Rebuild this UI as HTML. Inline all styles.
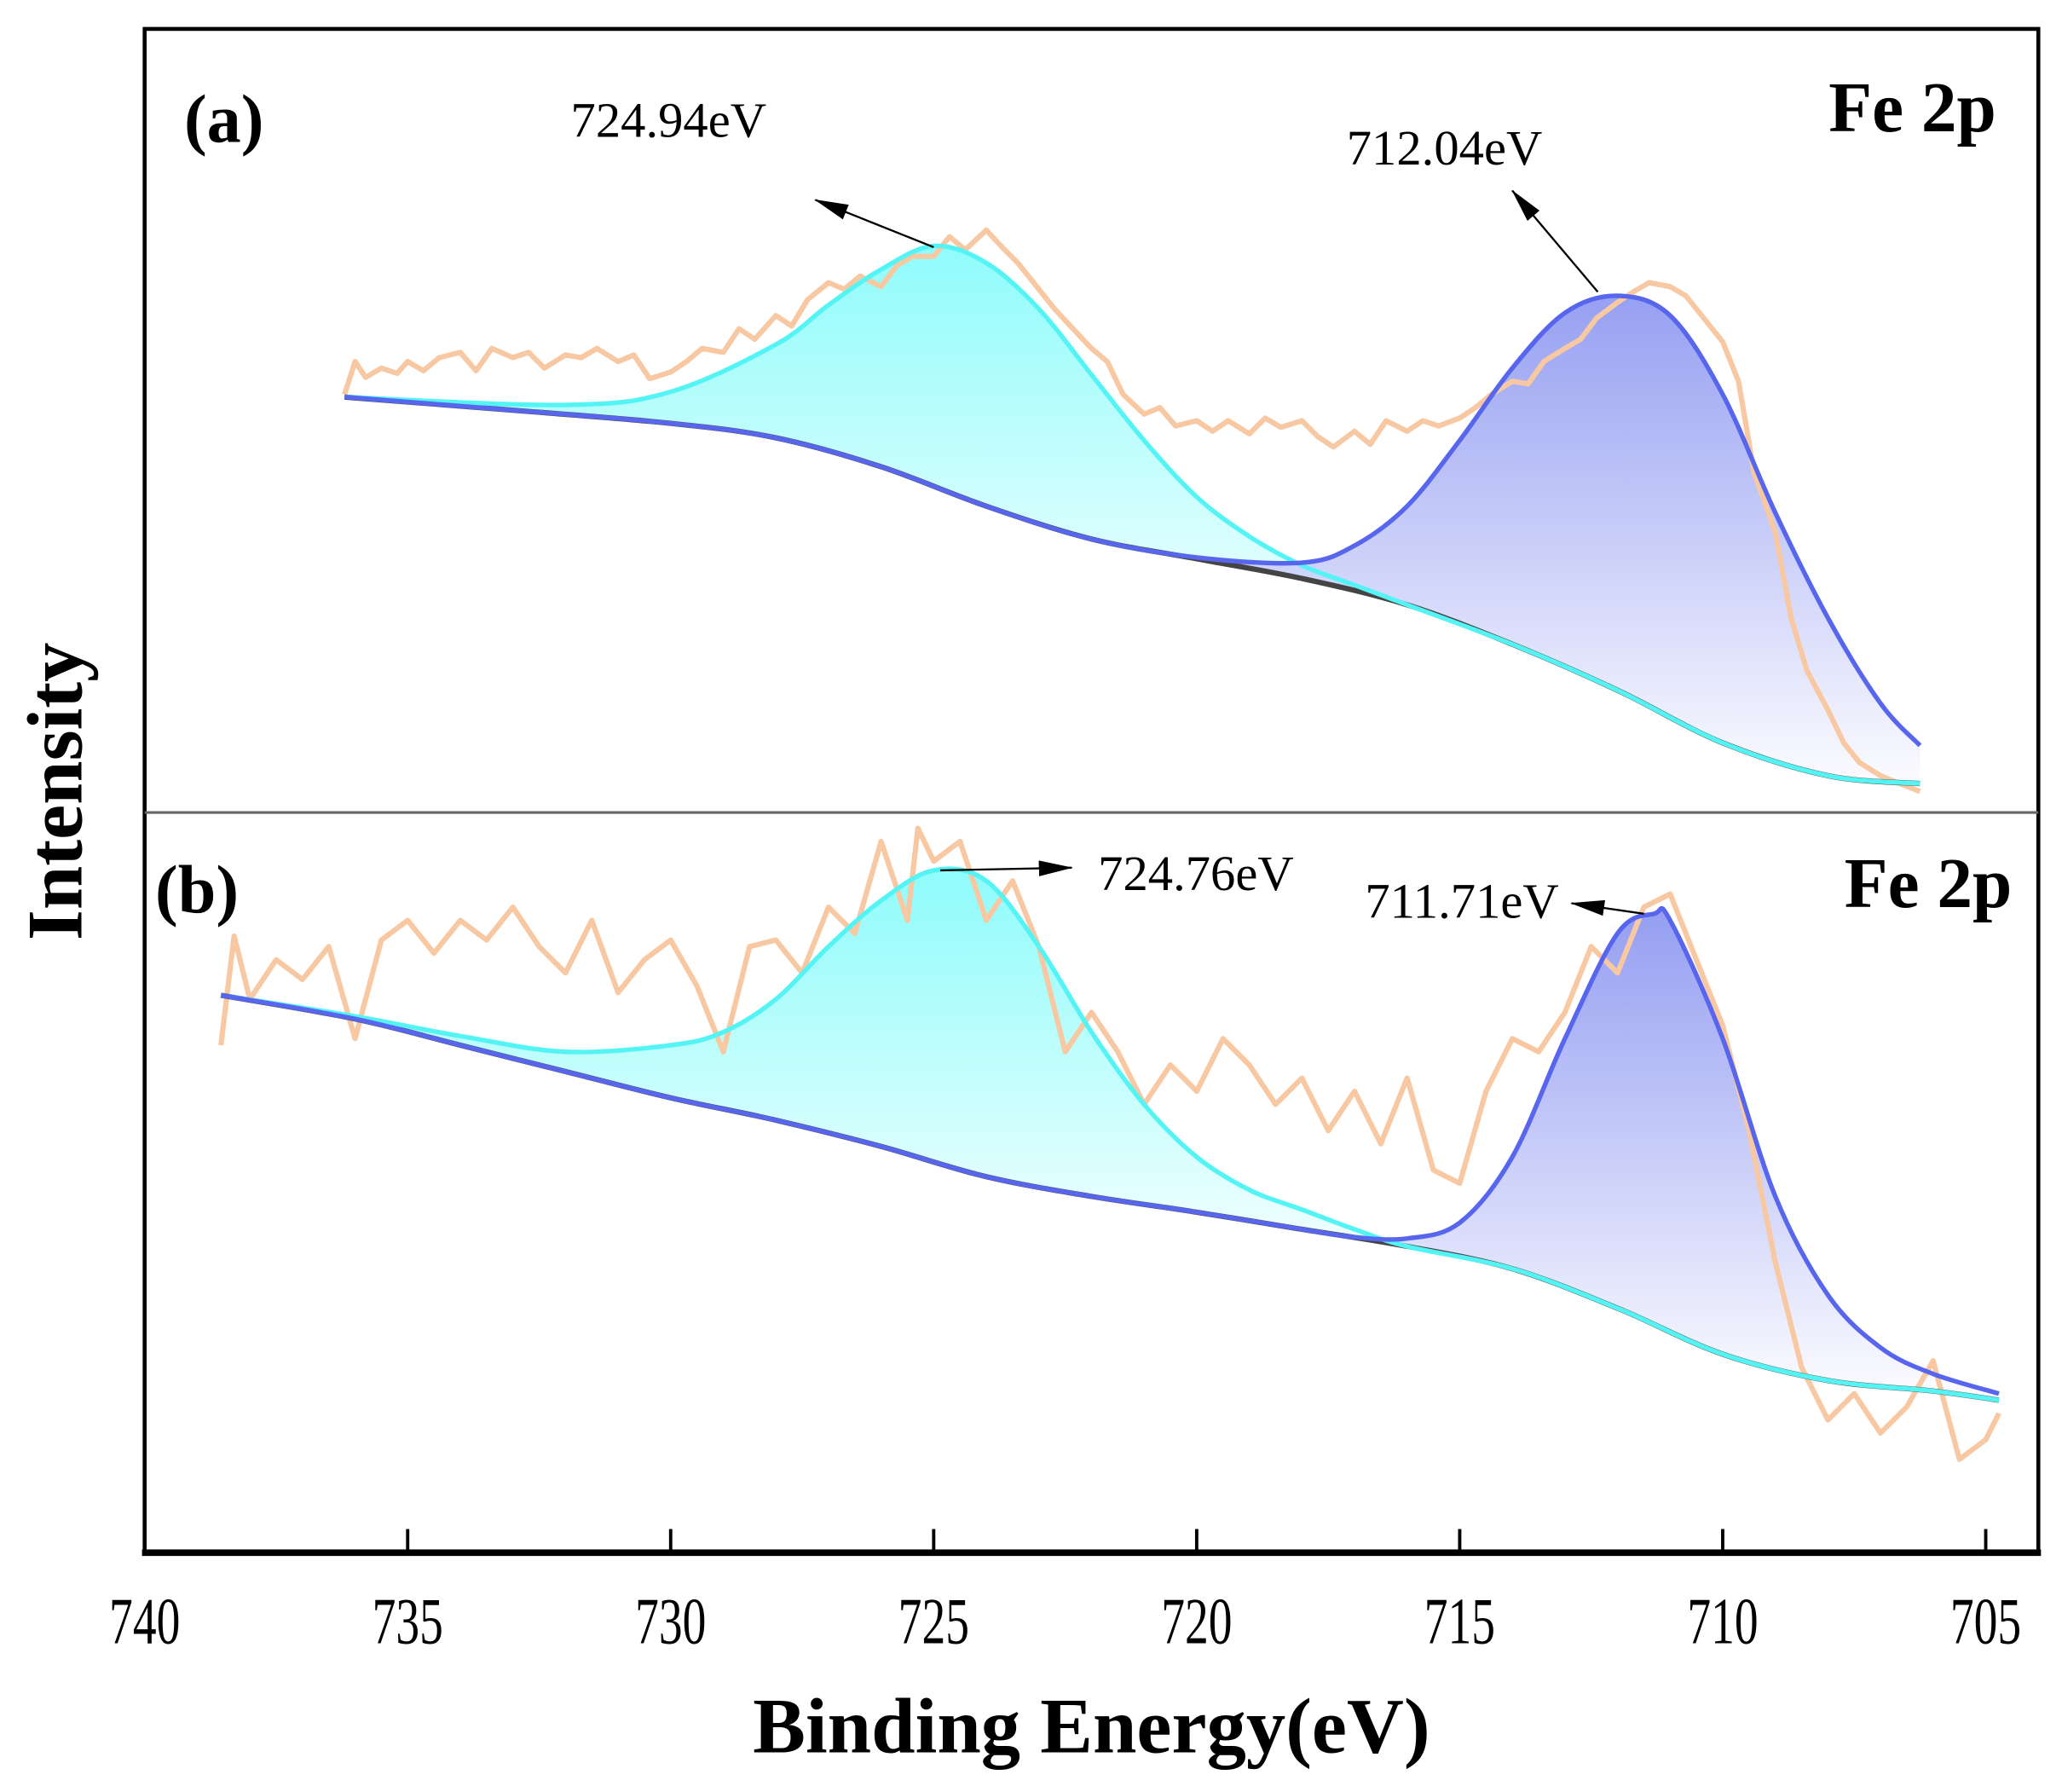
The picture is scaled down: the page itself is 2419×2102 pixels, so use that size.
<!DOCTYPE html>
<html><head><meta charset="utf-8"><style>
html,body{margin:0;padding:0;background:#fff}
svg{display:block}
text{font-family:"Liberation Serif",serif}
</style></head><body>
<svg id="chart" width="2419" height="2102" viewBox="0 0 1568 1363" preserveAspectRatio="none" xmlns="http://www.w3.org/2000/svg">
<defs>
<linearGradient id="gcA" gradientUnits="userSpaceOnUse" x1="0" y1="185" x2="0" y2="470"><stop offset="0" stop-color="#8ffcfb"/><stop offset="1" stop-color="#eafffe"/></linearGradient>
<linearGradient id="gbA" gradientUnits="userSpaceOnUse" x1="0" y1="222" x2="0" y2="596"><stop offset="0" stop-color="#8a95f0"/><stop offset="1" stop-color="#fbfbff"/></linearGradient>
<linearGradient id="gcB" gradientUnits="userSpaceOnUse" x1="0" y1="662" x2="0" y2="930"><stop offset="0" stop-color="#8ffcfb"/><stop offset="1" stop-color="#eafffe"/></linearGradient>
<linearGradient id="gbB" gradientUnits="userSpaceOnUse" x1="0" y1="695" x2="0" y2="1060"><stop offset="0" stop-color="#8a95f0"/><stop offset="1" stop-color="#fbfbff"/></linearGradient>
<marker id="arr2" markerWidth="26" markerHeight="12" refX="25" refY="6" orient="auto" markerUnits="userSpaceOnUse"><path d="M0,0 L26,6 L0,12 z" fill="#000"/></marker>
</defs>
<g id="plots"></g>
<rect x="110" y="22" width="1440" height="1158" fill="none" stroke="#000" stroke-width="3"/>
<line x1="110" y1="618" x2="1550" y2="618" stroke="#666" stroke-width="2"/>
<line x1="108" y1="1181" x2="1552" y2="1181" stroke="#000" stroke-width="5"/>
<g id="xticks"></g>
<text x="830" y="1333" font-size="60" font-weight="bold" text-anchor="middle">Binding Energy(eV)</text>
<text transform="translate(62,602) rotate(-90)" font-size="60" font-weight="bold" text-anchor="middle">Intensity</text>
<text x="140" y="108" font-size="52" font-weight="bold">(a)</text>
<text x="1518" y="100" font-size="54" font-weight="bold" text-anchor="end">Fe 2p</text>
<text x="434" y="104" font-size="38">724.94eV</text>
<text x="1024" y="125" font-size="38">712.04eV</text>
<line x1="710" y1="188" x2="620" y2="152" stroke="#000" stroke-width="1.5" marker-end="url(#arr2)"/>
<line x1="1215" y1="222" x2="1150" y2="145" stroke="#000" stroke-width="1.5" marker-end="url(#arr2)"/>
<text x="118" y="694" font-size="52" font-weight="bold">(b)</text>
<text x="1530" y="690" font-size="54" font-weight="bold" text-anchor="end">Fe 2p</text>
<text x="835" y="677" font-size="38">724.76eV</text>
<text x="1038" y="698" font-size="38">711.71eV</text>
<line x1="715" y1="662" x2="815" y2="660" stroke="#000" stroke-width="1.5" marker-end="url(#arr2)"/>
<line x1="1250" y1="695" x2="1195" y2="687" stroke="#000" stroke-width="1.5" marker-end="url(#arr2)"/>
</svg>
<script>
const tickEnergies=[740,735,730,725,720,715,710,705];
// Panel (a)
const bgAE=[736.2,733,730,728,726,724,722,720,718,716,714,712,710,708,706.25];
const bgAV=[318,308,298,287,265,235,210,195,180,160,130,95,55,30,24];
const cyAE=[736.2,732,730,728,727,726,725,724,723,722,721,720,719,718,717,716,714,712,710,708,706.25];
const cyAV=[318,312,322,358,388,415,433,420,385,335,285,242,212,190,175,160,130,95,55,30,24];
const blAE=[736.2,733,730,728,726,724,722,720,718,717,716,715,714,713,712,711,710,709,708,707,706.25];
const blAV=[318,308,298,287,265,235,210,196,192,205,235,285,340,382,395,380,320,230,150,85,53];
const rawAE=[736.2,736,735.8,735.5,735.2,735,734.7,734.4,734,733.7,733.4,733,732.7,732.4,732,731.7,731.4,731,730.7,730.4,730,729.7,729.4,729,728.7,728.4,728,727.7,727.4,727,726.7,726.4,726,725.7,725.4,725,724.7,724.4,724,723.7,723.4,723,722.7,722.4,722,721.7,721.4,721,720.7,720.4,720,719.7,719.4,719,718.7,718.4,718,717.7,717.4,717,716.7,716.4,716,715.7,715.4,715,714.7,714.4,714,713.7,713.4,713,712.7,712.4,712,711.7,711.4,711,710.7,710.4,710,709.7,709.4,709,708.7,708.4,708,707.7,707.4,707,706.7,706.5,706.25];
const rawAV=[320,345,333,340,336,345,338,348,352,338,355,348,352,340,350,348,355,345,350,332,337,345,355,352,370,362,380,372,392,405,400,410,402,418,425,425,440,430,445,432,420,400,385,372,355,345,320,305,310,296,300,292,300,290,302,295,300,288,280,292,282,300,292,300,296,302,310,320,330,328,345,355,362,378,390,398,405,402,395,380,360,330,260,215,150,110,80,55,40,30,25,22,18,15];
// Panel (b)
const bgBE=[738.55,736,734,732,730,728,726,724,722,720,718,716,714,712,710,708,706,704.75];
const bgBV=[423,405,385,365,345,328,308,285,270,258,245,232,215,185,150,130,122,115];
const cyBE=[738.55,736,734,732,730,729,728,727,726,725,724,723,722,721,720,719,718,717,716,714,712,710,708,706,704.75];
const cyBV=[423,407,392,380,385,395,420,460,495,518,510,460,395,340,300,275,260,245,232,215,185,150,130,122,115];
const blBE=[738.55,736,734,732,730,728,726,724,722,720,718,717,716,715,714,713,712,711.3,711,710,709,708,707,706,704.75];
const blBV=[423,405,385,365,345,328,308,285,270,258,245,239,238,250,300,390,470,485,480,390,270,195,155,135,120];
const rawBE=[738.55,738.3,738,737.5,737,736.5,736,735.5,735,734.5,734,733.5,733,732.5,732,731.5,731,730.5,730,729.5,729,728.5,728,727.5,727,726.5,726,725.5,725.3,725,724.5,724,723.5,723,722.5,722,721.5,721,720.5,720,719.5,719,718.5,718,717.5,717,716.5,716,715.5,715,714.5,714,713.5,713,712.5,712,711.5,711,710.5,710,709.5,709,708.5,708,707.5,707,706.5,706,705.5,705,704.75];
const rawBV=[385,468,420,450,435,460,390,465,480,455,480,465,490,460,440,480,425,450,465,430,380,460,465,440,490,470,540,480,550,525,540,480,510,460,380,410,380,340,370,350,390,370,340,360,320,350,310,360,290,280,350,390,380,410,460,440,490,500,450,400,320,220,140,100,120,90,110,145,70,85,105];

const NS='http://www.w3.org/2000/svg';
const xS=e=>110+(740-e)*40;
const yA=v=>620-v, yB=v=>1180-v;
const plots=document.getElementById('plots');
function pts(E,V,ys){return E.map((e,i)=>[xS(e),ys(V[i])]);}
function smooth(p){let d='M'+p[0][0].toFixed(1)+','+p[0][1].toFixed(1);
 for(let i=0;i<p.length-1;i++){const p0=p[i-1]||p[i],p1=p[i],p2=p[i+1],p3=p[i+2]||p2;
  const c1=[p1[0]+(p2[0]-p0[0])/6,p1[1]+(p2[1]-p0[1])/6],c2=[p2[0]-(p3[0]-p1[0])/6,p2[1]-(p3[1]-p1[1])/6];
  d+=' C'+c1.map(n=>n.toFixed(1))+' '+c2.map(n=>n.toFixed(1))+' '+p2.map(n=>n.toFixed(1));}
 return d;}
function poly(p){return 'M'+p.map(q=>q[0].toFixed(1)+','+q[1].toFixed(1)).join(' L');}
function rev(p){return smooth(p.slice().reverse()).replace(/^M/,'L');}
function addPath(d,attrs,name){const el=document.createElementNS(NS,'path');el.setAttribute('d',d);
 for(const k in attrs)el.setAttribute(k,attrs[k]);
 
 
 plots.appendChild(el);return el;}
function panel(tag,ys,bgE,bgV,cyE,cyV,blE,blV,rE,rV,gc,gb){
 const bg=pts(bgE,bgV,ys),cy=pts(cyE,cyV,ys),bl=pts(blE,blV,ys),raw=pts(rE,rV,ys);
 addPath(smooth(cy)+' '+rev(bg)+' Z',{fill:'url(#'+gc+')',stroke:'none'},'peak-fill-'+tag+'-cyan');
 addPath(smooth(bl)+' '+rev(bg)+' Z',{fill:'url(#'+gb+')',stroke:'none','fill-opacity':'0.9'},'peak-fill-'+tag+'-blue');
 addPath(poly(raw),{fill:'none',stroke:'#f8c8a2','stroke-width':4,'stroke-linejoin':'round'},'raw-data-'+tag);
 addPath(smooth(bg),{fill:'none',stroke:'#444','stroke-width':4},'background-'+tag);
 addPath(smooth(cy),{fill:'none',stroke:'#55f4f4','stroke-width':3.5},'fit-cyan-'+tag);
 addPath(smooth(bl),{fill:'none',stroke:'#5866ee','stroke-width':3.5},'fit-blue-'+tag);
}
panel('a',yA,bgAE,bgAV,cyAE,cyAV,blAE,blAV,rawAE,rawAV,'gcA','gbA');
panel('b',yB,bgBE,bgBV,cyBE,cyBV,blBE,blBV,rawBE,rawBV,'gcB','gbB');
const tg=document.getElementById('xticks');
tickEnergies.forEach(e=>{
 const l=document.createElementNS(NS,'line');
 l.setAttribute('x1',xS(e));l.setAttribute('x2',xS(e));l.setAttribute('y1',1163);l.setAttribute('y2',1180);
 l.setAttribute('stroke','#000');l.setAttribute('stroke-width',2.5);
 
 
 tg.appendChild(l);
 const t=document.createElementNS(NS,'text');
 t.setAttribute('x',xS(e));t.setAttribute('y',1250);t.setAttribute('font-size',50);t.setAttribute('text-anchor','middle');
 t.setAttribute('transform','translate('+xS(e)+',0) scale(0.72,1) translate('+(-xS(e))+',0)');
 t.textContent=e;
 
 
 tg.appendChild(t);
});
</script>
</body></html>
